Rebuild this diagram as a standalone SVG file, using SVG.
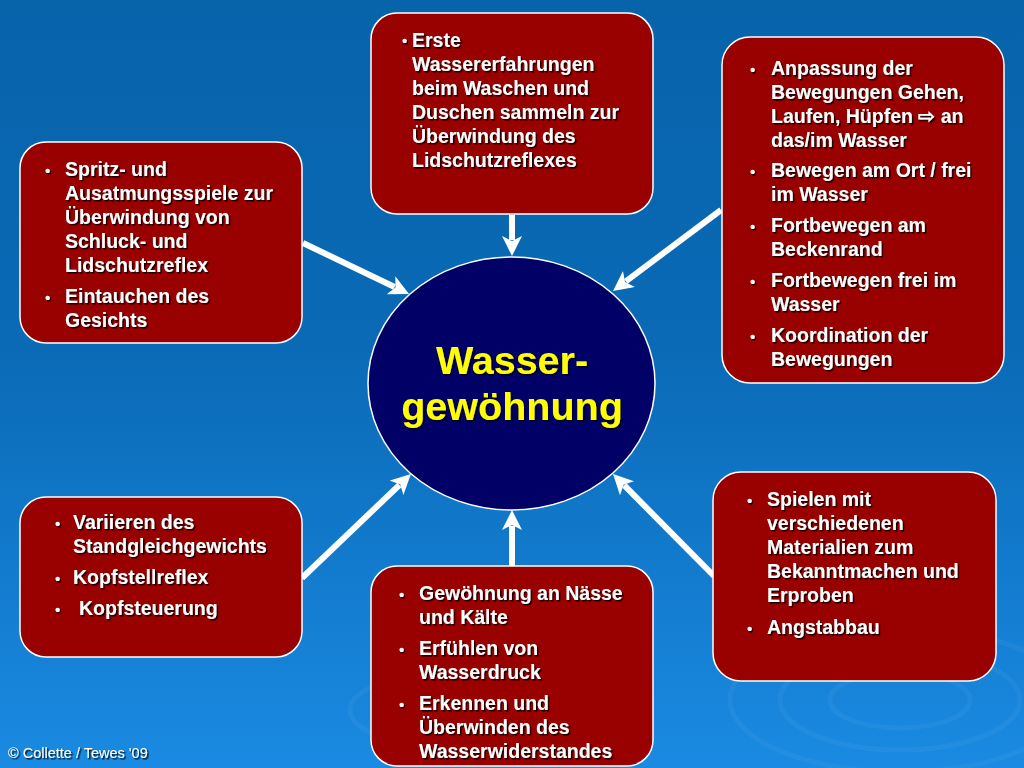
<svg xmlns="http://www.w3.org/2000/svg" width="1024" height="768" viewBox="0 0 1024 768">
<defs>
<linearGradient id="bg" x1="0" y1="0" x2="0" y2="1">
<stop offset="0" stop-color="#0763aa"/>
<stop offset="0.45" stop-color="#0a6ab6"/>
<stop offset="1" stop-color="#1a8ae2"/>
</linearGradient>
<filter id="sh" x="-5%" y="-5%" width="110%" height="110%">
<feDropShadow dx="1.5" dy="1.5" stdDeviation="0.5" flood-color="#000" flood-opacity="0.85"/>
</filter>
<marker id="ah" viewBox="0 0 20 20" refX="4" refY="10" markerWidth="20" markerHeight="20" markerUnits="userSpaceOnUse" orient="auto">
<path d="M0,0 L20,10 L0,20 L5,10 Z" fill="#fff"/>
</marker>
<style>
.box{fill:#990000;stroke:#fff;stroke-width:1.5}
.t{font-family:"Liberation Sans",Arial,sans-serif;font-weight:bold;font-size:19.5px;fill:#fff;filter:url(#sh)}
.b{font-family:"Liberation Sans",Arial,sans-serif;font-weight:bold;font-size:15px;fill:#fff;filter:url(#sh)}
.c{font-family:"Liberation Sans",Arial,sans-serif;font-weight:bold;font-size:39.5px;fill:#ffff00;text-anchor:middle;filter:url(#sh)}
.conn line{stroke:#fff;stroke-width:6;marker-end:url(#ah)}
.rip{fill:none;stroke:#ffffff;stroke-opacity:0.045;stroke-width:5}
</style>
</defs>
<rect width="1024" height="768" fill="url(#bg)"/>
<g>
<ellipse class="rip" cx="900" cy="700" rx="70" ry="28"/>
<ellipse class="rip" cx="900" cy="700" rx="120" ry="50"/>
<ellipse class="rip" cx="900" cy="700" rx="170" ry="72"/>
<ellipse class="rip" cx="440" cy="710" rx="90" ry="35"/>
</g>
<g class="conn">
<line x1="512" y1="215" x2="512" y2="240"/>
<line x1="303" y1="243" x2="394.6" y2="287"/>
<line x1="721" y1="210" x2="625.8" y2="281.4"/>
<line x1="302" y1="578" x2="399.4" y2="485"/>
<line x1="512" y1="566" x2="512" y2="526"/>
<line x1="714" y1="576" x2="624.3" y2="485.4"/>
</g>
<g id="center">
<ellipse cx="511.5" cy="383.5" rx="143.5" ry="126.5" fill="#000066" stroke="#fff" stroke-width="1.5"/>
<text class="c" x="512" y="374">Wasser-</text>
<text class="c" x="512" y="420">gewöhnung</text>
</g>
<g id="top">
<rect class="box" x="371" y="13" width="282" height="201" rx="26"/>
<text class="b" x="402" y="46">•</text>
<text class="t" x="412"><tspan x="412" y="47">Erste</tspan><tspan x="412" y="71">Wassererfahrungen</tspan><tspan x="412" y="95">beim Waschen und</tspan><tspan x="412" y="119">Duschen sammeln zur</tspan><tspan x="412" y="143">Überwindung des</tspan><tspan x="412" y="167">Lidschutzreflexes</tspan></text>
</g>
<g id="topright">
<rect class="box" x="722" y="37" width="282" height="346" rx="28"/>
<text class="b" x="750"><tspan x="750" y="75">•</tspan><tspan x="750" y="177">•</tspan><tspan x="750" y="232">•</tspan><tspan x="750" y="287">•</tspan><tspan x="750" y="342">•</tspan></text>
<text class="t" x="771"><tspan x="771" y="75">Anpassung der</tspan><tspan x="771" y="99">Bewegungen Gehen,</tspan><tspan x="771" y="123">Laufen, Hüpfen ⇨ an</tspan><tspan x="771" y="147">das/im Wasser</tspan><tspan x="771" y="177">Bewegen am Ort / frei</tspan><tspan x="771" y="201">im Wasser</tspan><tspan x="771" y="232">Fortbewegen am</tspan><tspan x="771" y="256">Beckenrand</tspan><tspan x="771" y="287">Fortbewegen frei im</tspan><tspan x="771" y="311">Wasser</tspan><tspan x="771" y="342">Koordination der</tspan><tspan x="771" y="366">Bewegungen</tspan></text>
</g>
<g id="topleft">
<rect class="box" x="20" y="142" width="282" height="201" rx="26"/>
<text class="b" x="45"><tspan x="45" y="176">•</tspan><tspan x="45" y="303">•</tspan></text>
<text class="t" x="65"><tspan x="65" y="176">Spritz- und</tspan><tspan x="65" y="200">Ausatmungsspiele zur</tspan><tspan x="65" y="224">Überwindung von</tspan><tspan x="65" y="248">Schluck- und</tspan><tspan x="65" y="272">Lidschutzreflex</tspan><tspan x="65" y="303">Eintauchen des</tspan><tspan x="65" y="327">Gesichts</tspan></text>
</g>
<g id="bottomleft">
<rect class="box" x="20" y="497" width="282" height="160" rx="26"/>
<text class="b" x="55"><tspan x="55" y="529">•</tspan><tspan x="55" y="584">•</tspan><tspan x="55" y="615">•</tspan></text>
<text class="t" x="73"><tspan x="73" y="529">Variieren des</tspan><tspan x="73" y="553">Standgleichgewichts</tspan><tspan x="73" y="584">Kopfstellreflex</tspan><tspan x="79" y="615">Kopfsteuerung</tspan></text>
</g>
<g id="bottom">
<rect class="box" x="371" y="566" width="282" height="200" rx="26"/>
<text class="b" x="399"><tspan x="399" y="600">•</tspan><tspan x="399" y="655">•</tspan><tspan x="399" y="710">•</tspan></text>
<text class="t" x="419"><tspan x="419" y="600">Gewöhnung an Nässe</tspan><tspan x="419" y="624">und Kälte</tspan><tspan x="419" y="655">Erfühlen von</tspan><tspan x="419" y="679">Wasserdruck</tspan><tspan x="419" y="710">Erkennen und</tspan><tspan x="419" y="734">Überwinden des</tspan><tspan x="419" y="758">Wasserwiderstandes</tspan></text>
</g>
<g id="bottomright">
<rect class="box" x="713" y="472" width="283" height="209" rx="28"/>
<text class="b" x="747"><tspan x="747" y="506">•</tspan><tspan x="747" y="634">•</tspan></text>
<text class="t" x="767"><tspan x="767" y="506">Spielen mit</tspan><tspan x="767" y="530">verschiedenen</tspan><tspan x="767" y="554">Materialien zum</tspan><tspan x="767" y="578">Bekanntmachen und</tspan><tspan x="767" y="602">Erproben</tspan><tspan x="767" y="634">Angstabbau</tspan></text>
</g>
<text x="8" y="758" font-family="'Liberation Sans',Arial,sans-serif" font-size="14.5" fill="#fff" filter="url(#sh)">© Collette / Tewes '09</text>
</svg>
